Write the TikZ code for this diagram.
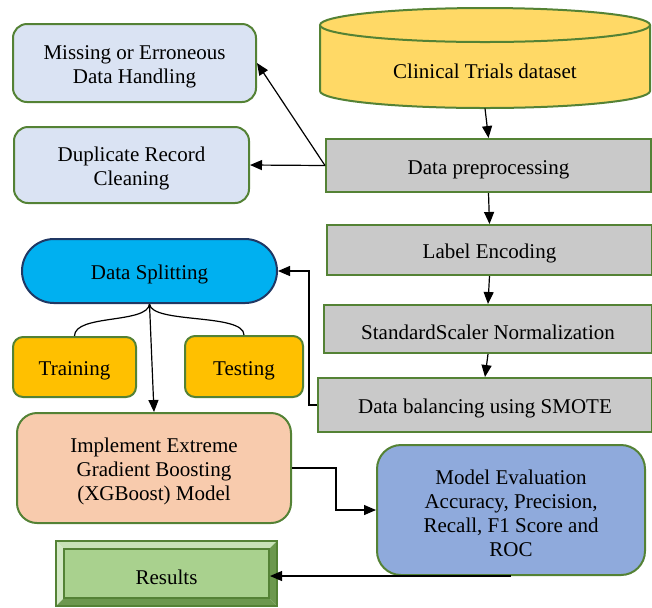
\documentclass[tikz,border=0pt]{standalone}
\usepackage{fontspec}
\setmainfont{Liberation Serif}
\usetikzlibrary{positioning,arrows.meta}

\definecolor{boxgreen}{RGB}{84,130,53}
\definecolor{paleblue}{RGB}{218,227,243}
\definecolor{cylgold}{RGB}{255,217,102}
\definecolor{stepgray}{RGB}{201,201,201}
\definecolor{splitcyan}{RGB}{0,176,240}
\definecolor{splitnavy}{RGB}{32,56,100}
\definecolor{setorange}{RGB}{255,192,0}
\definecolor{modelpeach}{RGB}{248,203,173}
\definecolor{evalblue}{RGB}{143,170,220}
\definecolor{resgreen}{RGB}{169,209,142}
\definecolor{bevlight}{RGB}{200,226,183}
\definecolor{bevdark}{RGB}{108,152,78}

\newcommand{\toprule}{\rule{0pt}{11pt}}

\begin{document}
\begin{tikzpicture}[
    x=0.5pt, y=-0.5pt,
    every node/.style={font=\fontsize{10.5}{12}\selectfont, align=center, inner sep=0pt},
    greenbox/.style={draw=boxgreen, line width=1pt},
    stepbox/.style={greenbox, fill=stepgray, minimum width=162.5pt},
    arr/.style={draw, line width=0.6pt, -{Triangle[length=6pt,width=5pt]}}
]
\useasboundingbox (0,0) rectangle (652,607);

% dataset cylinder
\draw[greenbox, fill=cylgold] (320,25) -- (320,91)
    arc[start angle=180, end angle=0, x radius=165, y radius=17] -- (650,25);
\draw[greenbox, fill=cylgold] (485,25) ellipse [x radius=165, y radius=17];
\node (data) [minimum width=165pt, minimum height=40pt] at (485,68) {\toprule Clinical Trials dataset};

% preprocessing steps
\node[stepbox, minimum height=26.5pt] (prep) at (488.5,165.5) {\toprule Data preprocessing};
\node[stepbox, minimum height=25pt] (enc) at (489.5,250) {\toprule Label Encoding};
\node[stepbox, minimum width=164pt, minimum height=24pt] (norm) at (488,329) {\toprule StandardScaler Normalization};
\node[stepbox, minimum width=167pt, minimum height=27pt] (bal) at (485,405) {\toprule Data balancing using SMOTE};

% cleaning boxes
\node[greenbox, fill=paleblue, rounded corners=7pt, minimum width=121.5pt, minimum height=39pt] (miss) at (134.5,63) {\toprule Missing or Erroneous\\Data Handling};
\node[greenbox, fill=paleblue, rounded corners=7pt, minimum width=117.5pt, minimum height=38pt] (dup) at (131.5,165) {\toprule Duplicate Record\\Cleaning};

% splitting
\node[draw=splitnavy, line width=1pt, fill=splitcyan, rounded corners=16pt, minimum width=127.5pt, minimum height=32pt] (split) at (149.5,271) {\toprule Data Splitting};
\node[greenbox, fill=setorange, rounded corners=5pt, minimum width=61.5pt, minimum height=30pt] (train) at (74.5,367) {\toprule Training};
\node[greenbox, fill=setorange, rounded corners=5pt, minimum width=59pt, minimum height=30.5pt] (test) at (244,366.5) {\toprule Testing};

% model and evaluation
\node[greenbox, fill=modelpeach, rounded corners=10pt, minimum width=137pt, minimum height=55pt] (xgb) at (154,468) {\toprule Implement Extreme\\Gradient Boosting\\(XGBoost) Model};
\node[greenbox, fill=evalblue, rounded corners=12pt, minimum width=134pt, minimum height=65pt] (eval) at (511,510) {\toprule Model Evaluation\\Accuracy, Precision,\\Recall, F1 Score and\\ROC};

% results (bevelled)
\fill[bevlight] (56,541) -- (277,541) -- (269,549) -- (64,549) -- cycle;
\fill[bevlight!80!white] (56,541) -- (64,549) -- (64,598) -- (56,606) -- cycle;
\fill[bevdark] (277,541) -- (277,606) -- (269,598) -- (269,549) -- cycle;
\fill[bevdark] (56,606) -- (277,606) -- (269,598) -- (64,598) -- cycle;
\draw[greenbox] (56,541) rectangle (277,606);
\node[greenbox, fill=resgreen, minimum width=102.5pt, minimum height=24.5pt] (res) at (166.5,573.5) {\toprule Results};

% connectors
\draw[arr] (data.south) -- (prep.north);
\draw[arr] (prep.south) -- (enc.north);
\draw[arr] (enc.south) -- (norm.north);
\draw[arr] (norm.south) -- (bal.north);
\draw[arr] (prep.west) -- (miss.east);
\draw[arr] (prep.west) -- (dup.east);
\draw[arr] (bal.west) -- ++(-8,0) |- (split.east);
\draw[line width=0.6pt] (split.south) .. controls +(-2,20) and +(0,-22) .. (train.north);
\draw[line width=0.6pt] (split.south) .. controls +(2,20) and +(0,-22) .. (test.north);
\draw[arr] (split.south) -- (xgb.north);
\draw[arr] (xgb.east) -- ++(44,0) |- (eval.west);
\draw[arr] (eval.south) -- (eval.south -| res.east);
\end{tikzpicture}
\end{document}
